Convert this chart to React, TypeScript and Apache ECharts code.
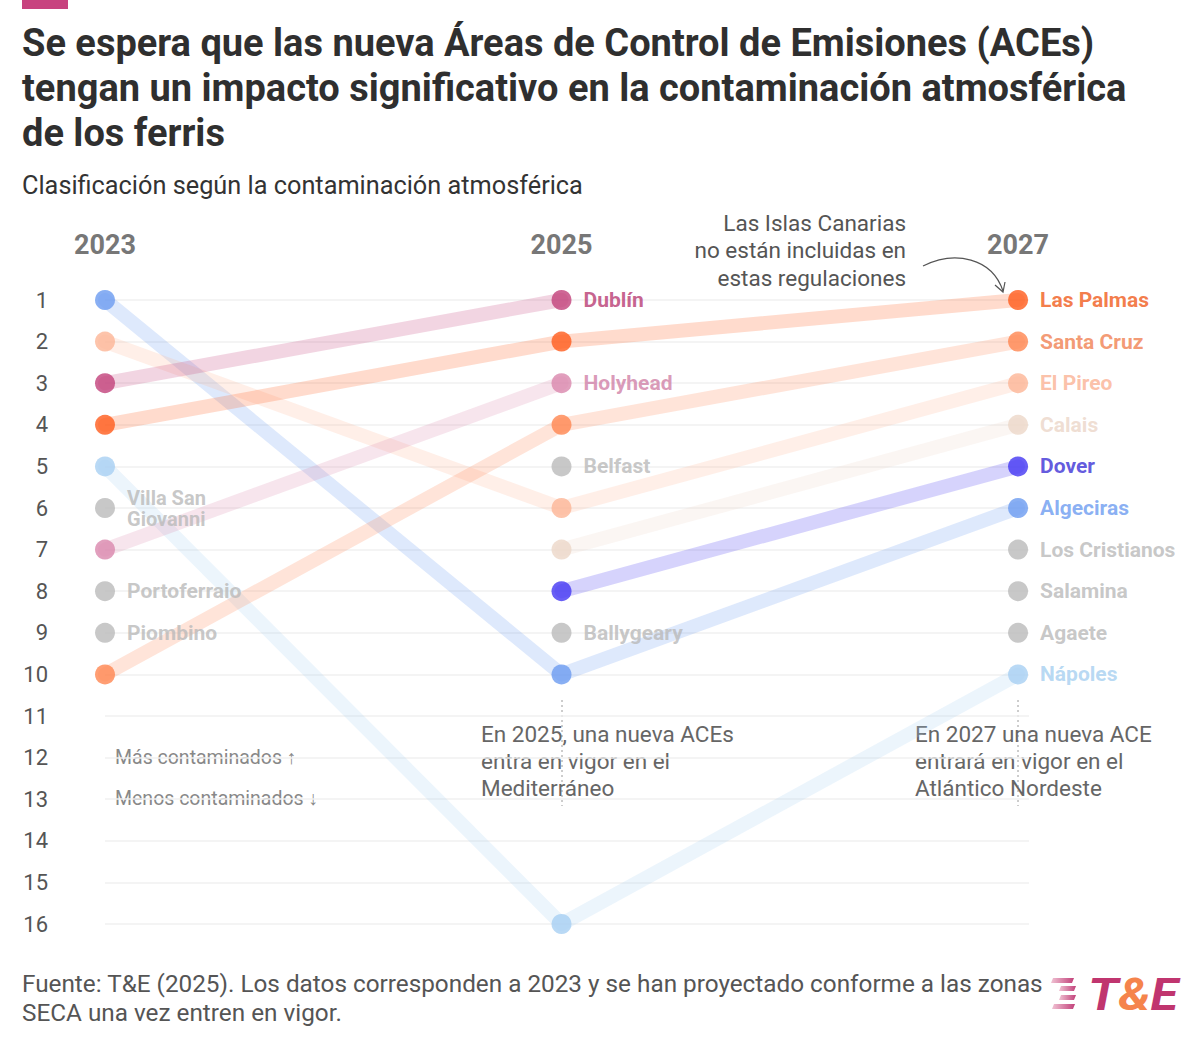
import React, { useEffect, useRef } from "react";
import * as echarts from "echarts";

// ---- DATA ----
const years = ["2023", "2025", "2027"];
const ports = [
  "Algeciras",
  "El Pireo",
  "Dublín",
  "Las Palmas",
  "Nápoles",
  "Villa San\nGiovanni",
  "Holyhead",
  "Portoferraio",
  "Piombino",
  "Santa Cruz",
  "Belfast",
  "Calais",
  "Dover",
  "Ballygeary",
  "Los Cristianos",
  "Salamina",
  "Agaete",
];
const rank2023 = [1, 2, 3, 4, 5, 6, 7, 8, 9, 10, null, null, null, null, null, null, null];
const rank2025 = [10, 6, 1, 2, 16, null, 3, null, null, 4, 5, 7, 8, 9, null, null, null];
const rank2027 = [6, 3, null, 1, 10, null, null, null, null, 2, null, 4, 5, null, 7, 8, 9];
const rankTicks = [1, 16];

// ---- STYLE ----
const GRAY = "#bababa";
const portColors = [
  "#6b9bf0",
  "#fdb596",
  "#c2417a",
  "#ff5b1c",
  "#a8d0f2",
  GRAY,
  "#d987ad",
  GRAY,
  GRAY,
  "#ff8650",
  GRAY,
  "#ecd7c8",
  "#4437f2",
  GRAY,
  GRAY,
  GRAY,
  GRAY,
];
const labelColors = [
  "#6b9bf0",
  "#fbb193",
  "#b83a72",
  "#f05a1a",
  "#a6cff0",
  "#b9b9b9",
  "#d07fa6",
  "#b9b9b9",
  "#b9b9b9",
  "#f08050",
  "#b9b9b9",
  "#ebd5c7",
  "#3a2fd6",
  "#b9b9b9",
  "#b9b9b9",
  "#b9b9b9",
  "#b9b9b9",
];

const FONT = "Roboto, 'Noto Sans', sans-serif";

function buildOption() {
  const ranks = [rank2023, rank2025, rank2027];
  const lineSeries: any[] = [];
  const scatterData: any[] = [];
  ports.forEach((name, i) => {
    const pts: [number, number][] = [];
    ranks.forEach((arr, yi) => {
      const r = arr[i];
      if (r !== null && r !== undefined) pts.push([yi, r]);
    });
    if (pts.length >= 2) {
      lineSeries.push({
        type: "line",
        name,
        data: pts,
        symbol: "none",
        z: 1,
        silent: true,
        lineStyle: { color: portColors[i], width: 14, opacity: 0.22, cap: "round", join: "round" },
      });
    }
    const multi = name.includes("\n");
    pts.forEach((p, k) => {
      const last = k === pts.length - 1;
      scatterData.push({
        name,
        value: p,
        itemStyle: { color: portColors[i] },
        label: {
          show: last,
          color: labelColors[i],
          fontSize: multi ? 20 : 21,
          lineHeight: multi ? 21 : 24,
        },
      });
    });
  });

  const annFont = `22.5px ${FONT}`;

  return {
    animation: false,
    backgroundColor: "#ffffff",
    grid: { left: 105, right: 171, top: 300, bottom: 124, containLabel: false },
    xAxis: {
      type: "value",
      position: "top",
      min: 0,
      max: 2.024,
      interval: 1,
      axisLine: { show: false },
      axisTick: { show: false },
      splitLine: { show: false },
      axisLabel: {
        margin: 42,
        fontSize: 27,
        fontWeight: "bold",
        color: "#777777",
        fontFamily: FONT,
        formatter: (v: number) => (Number.isInteger(v) && years[v] ? years[v] : ""),
      },
    },
    yAxis: {
      type: "value",
      inverse: true,
      min: rankTicks[0],
      max: rankTicks[1],
      interval: 1,
      axisLine: { show: false },
      axisTick: { show: false },
      splitLine: { show: true, lineStyle: { color: "#f0f0f0", width: 1.5 } },
      axisLabel: { margin: 57, fontSize: 22, color: "#555555", fontFamily: FONT },
    },
    series: [
      ...lineSeries,
      {
        type: "scatter",
        z: 3,
        symbol: "circle",
        symbolSize: 20,
        silent: true,
        data: scatterData,
        label: {
          position: "right",
          distance: 12,
          fontSize: 21,
          fontWeight: "bold",
          fontFamily: FONT,
          formatter: (p: any) => p.name,
        },
      },
    ],
    graphic: [
      { type: "rect", shape: { x: 22, y: 0, width: 46, height: 9 }, style: { fill: "#c8437f" } },
      {
        type: "text",
        x: 22,
        y: 43,
        style: {
          text: "Se espera que las nueva Áreas de Control de Emisiones (ACEs)",
          font: `bold 38px ${FONT}`,
          fill: "#2f2f2f",
          verticalAlign: "middle",
        },
      },
      {
        type: "text",
        x: 22,
        y: 88,
        style: {
          text: "tengan un impacto significativo en la contaminación atmosférica",
          font: `bold 38px ${FONT}`,
          fill: "#2f2f2f",
          verticalAlign: "middle",
        },
      },
      {
        type: "text",
        x: 22,
        y: 133,
        style: { text: "de los ferris", font: `bold 38px ${FONT}`, fill: "#2f2f2f", verticalAlign: "middle" },
      },
      {
        type: "text",
        x: 22,
        y: 185,
        style: {
          text: "Clasificación según la contaminación atmosférica",
          font: `25.3px ${FONT}`,
          fill: "#333333",
          verticalAlign: "middle",
        },
      },
      {
        type: "text",
        x: 906,
        y: 209,
        style: {
          text: "Las Islas Canarias\nno están incluidas en\nestas regulaciones",
          font: annFont,
          lineHeight: 27.5,
          fill: "#555555",
          align: "right",
          verticalAlign: "top",
        },
      },
      {
        type: "bezierCurve",
        shape: { x1: 923, y1: 266, cpx1: 955, cpy1: 250, cpx2: 992, cpy2: 258, x2: 1003, y2: 291 },
        style: { stroke: "#555555", lineWidth: 1.2, fill: null },
      },
      {
        type: "polyline",
        shape: { points: [[995, 285], [1003, 292], [1005, 282]] },
        style: { stroke: "#555555", lineWidth: 1.2, fill: null },
      },
      {
        type: "text",
        x: 115,
        y: 757,
        style: { text: "Más contaminados ↑", font: `19.5px ${FONT}`, fill: "#888888", verticalAlign: "middle" },
      },
      {
        type: "text",
        x: 115,
        y: 798,
        style: { text: "Menos contaminados ↓", font: `19.5px ${FONT}`, fill: "#888888", verticalAlign: "middle" },
      },
      {
        type: "line",
        shape: { x1: 562, y1: 700, x2: 562, y2: 806 },
        style: { stroke: "#9a9a9a", lineWidth: 1, lineDash: [2, 3] },
      },
      {
        type: "line",
        shape: { x1: 1018, y1: 700, x2: 1018, y2: 806 },
        style: { stroke: "#9a9a9a", lineWidth: 1, lineDash: [2, 3] },
      },
      {
        type: "text",
        x: 481,
        y: 720,
        style: {
          text: "En 2025, una nueva ACEs\nentra en vigor en el\nMediterráneo",
          font: annFont,
          lineHeight: 27,
          fill: "#666666",
          verticalAlign: "top",
        },
      },
      {
        type: "text",
        x: 915,
        y: 720,
        style: {
          text: "En 2027 una nueva ACE\nentrará en vigor en el\nAtlántico Nordeste",
          font: annFont,
          lineHeight: 27,
          fill: "#666666",
          verticalAlign: "top",
        },
      },
      {
        type: "text",
        x: 22,
        y: 969,
        style: {
          text:
            "Fuente: T&E (2025). Los datos corresponden a 2023 y se han proyectado conforme a las zonas\nSECA una vez entren en vigor.",
          font: `24.3px ${FONT}`,
          lineHeight: 29,
          fill: "#555555",
          verticalAlign: "top",
        },
      },
      // logo stripes
      ...[
        [1051, 978, 21],
        [1059, 986, 15],
        [1059, 995, 15],
        [1052, 1004, 21],
      ].map(([x, y, w]) => ({
        type: "polygon",
        shape: { points: [[x + 2, y], [x + w + 2, y], [x + w, y + 5], [x, y + 5]] },
        style: {
          fill: new echarts.graphic.LinearGradient(0, 0, 1, 0, [
            { offset: 0, color: "#f0c2d3" },
            { offset: 1, color: "#c2417a" },
          ]),
        },
      })),
      {
        type: "text",
        x: 1088,
        y: 995,
        scaleX: 1.12,
        style: {
          text: "{m|T}{o|&}{m|E}",
          verticalAlign: "middle",
          rich: {
            m: { font: `italic bold 45px ${FONT}`, fill: "#c0356f", color: "#c0356f" },
            o: { font: `italic bold 45px ${FONT}`, fill: "#f5844c", color: "#f5844c" },
          },
        },
      },
    ],
  };
}

export default function App() {
  const ref = useRef<HTMLDivElement>(null);
  useEffect(() => {
    document.body.style.margin = "0";
    if (!ref.current) return;
    const chart = echarts.init(ref.current, undefined, { renderer: "svg" });
    chart.setOption(buildOption() as any);
    return () => chart.dispose();
  }, []);
  return <div ref={ref} style={{ width: 1200, height: 1048 }} />;
}
